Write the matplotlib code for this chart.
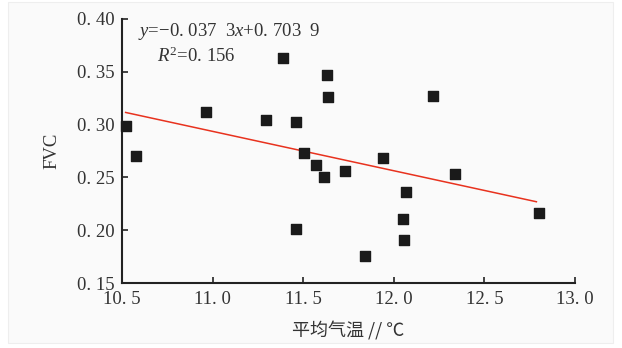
import matplotlib.pyplot as plt
from matplotlib.patches import Rectangle

# mean temperature (x) vs FVC (y)
temp = [10.52, 10.576, 10.966, 11.297, 11.388, 11.458, 11.505, 11.568,
        11.629, 11.638, 12.219, 11.94, 11.728, 11.616, 12.337, 12.066,
        12.05, 12.059, 11.839, 12.80, 11.458]
fvc = [0.299, 0.270, 0.312, 0.304, 0.363, 0.302, 0.273, 0.262,
       0.347, 0.326, 0.327, 0.268, 0.256, 0.250, 0.253, 0.236,
       0.211, 0.191, 0.176, 0.216, 0.201]
slope = -0.0373
icept = 0.7039
xticks = [10.5, 11.0, 11.5, 12.0, 12.5, 13.0]
xlabels = ["10. 5", "11. 0", "11. 5", "12. 0", "12. 5", "13. 0"]
yticks = [0.15, 0.20, 0.25, 0.30, 0.35, 0.40]
ylabels = ["0. 15", "0. 20", "0. 25", "0. 30", "0. 35", "0. 40"]

plt.rcParams['font.family'] = ['Liberation Serif', 'Noto Sans CJK SC']
plt.rcParams['mathtext.fontset'] = 'custom'
plt.rcParams['mathtext.it'] = 'Liberation Serif:italic'
plt.rcParams['mathtext.rm'] = 'Liberation Serif'
tc = '#333333'

fig = plt.figure(figsize=(6.22, 3.48), dpi=100, facecolor='white')
# light panel behind the chart
bg = Rectangle((8/622, 1-343/348), 605/622, 341/348,
               transform=fig.transFigure, facecolor='#fafafa',
               edgecolor='#eeeeee', lw=0.8, zorder=-10)
fig.add_artist(bg)
ax = fig.add_axes([122/622, 1-283/348, 453/622, 264/348])
ax.set_facecolor('none')

ax.scatter(temp, fvc, marker='s', s=60, color='#1a1a1a', zorder=3, clip_on=False)
x0, x1 = min(temp), 12.787
ax.plot([x0, x1], [slope*x0 + icept, slope*x1 + icept], color='#e8321e', lw=1.1, zorder=2)

ax.set_xlim(10.5, 13.0)
ax.set_ylim(0.15, 0.40)
ax.set_xticks(xticks)
ax.set_xticklabels(xlabels)
ax.set_yticks(yticks)
ax.set_yticklabels(ylabels)
ax.tick_params(direction='in', length=4, width=1.2, colors='#222222',
               labelsize=13.5, labelcolor=tc)
ax.tick_params(axis='x', pad=5.5)
ax.tick_params(axis='y', pad=5)
for s in ['top', 'right']:
    ax.spines[s].set_visible(False)
for s in ['left', 'bottom']:
    ax.spines[s].set_linewidth(1.5)
    ax.spines[s].set_color('#222222')

ax.set_xlabel("平均气温 // ℃", fontsize=13, color=tc, labelpad=10,
              family=['Noto Sans CJK SC'])
ax.set_ylabel("FVC", fontsize=13.5, color=tc, labelpad=12)

ax.text(138, 348-36, r"$y$=−0. 037  3$x$+0. 703  9", transform=None, fontsize=13.5,
        color=tc, va='baseline')
ax.text(157, 348-62, r"$R^{2}$=0. 156", transform=None, fontsize=13.5, color=tc,
        va='baseline')

fig.savefig("out.png", dpi=100, facecolor=fig.get_facecolor())
